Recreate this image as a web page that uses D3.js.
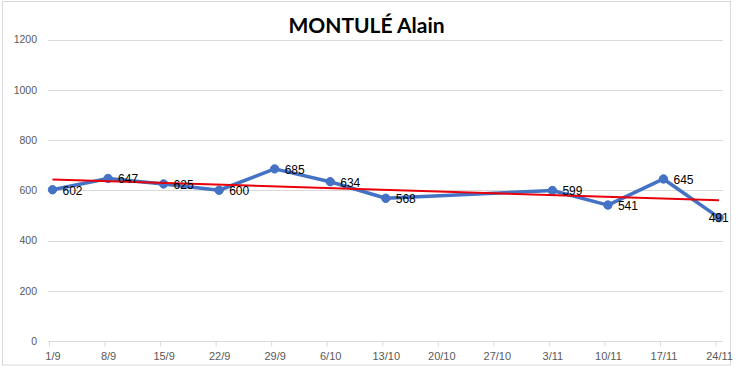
<!DOCTYPE html>
<html>
<head>
<meta charset="utf-8">
<script src="https://cdn.jsdelivr.net/npm/d3@7"></script>
<style>
  html, body { margin: 0; padding: 0; background: #fff; }
  svg { display: block; }
</style>
</head>
<body>
<svg id="chart" width="736" height="367"></svg>
<script>
const title = "MONTULÉ Alain";
const categories = ["1/9","8/9","15/9","22/9","29/9","6/10","13/10","20/10","27/10","3/11","10/11","17/11","24/11"];
const values = [602, 647, 625, 600, 685, 634, 568, null, null, 599, 541, 645, 491];
const yTicks = [0, 200, 400, 600, 800, 1000, 1200];

const W = 736, H = 367;
const svg = d3.select("#chart");
const borderRight = 730.5;

// chart border
svg.append("rect")
  .attr("x", 2.5).attr("y", 1.5).attr("width", borderRight - 2.5).attr("height", 363.5)
  .attr("fill", "#fff").attr("stroke", "#D9D9D9").attr("stroke-width", 1);

const plot = { left: 48, right: 723, top: 39.5, bottom: 341 };

const x = d3.scalePoint().domain(d3.range(categories.length)).range([52.5, 719]);
const y = d3.scaleLinear().domain([0, 1200]).range([plot.bottom, plot.top]);

// gridlines
svg.append("g").selectAll("line").data(yTicks.filter(d => d > 0)).join("line")
  .attr("x1", plot.left).attr("x2", plot.right)
  .attr("y1", d => Math.round(y(d)) + 0.5).attr("y2", d => Math.round(y(d)) + 0.5)
  .attr("stroke", "#D9D9D9").attr("stroke-width", 1);

// y axis labels
const yAxis = d3.axisLeft(y).tickValues(yTicks).tickFormat(d3.format("d")).tickSize(0).tickPadding(0);
const gy = svg.append("g").attr("transform", `translate(${plot.left - 11},0)`).call(yAxis);
gy.select(".domain").remove();
gy.selectAll("text").attr("fill", "#595959").style("font-family", "'Liberation Sans', Arial, sans-serif").style("font-size", "10.5px");

// x axis
const xAxis = d3.axisBottom(x).tickFormat(i => categories[i]).tickSize(0).tickPadding(11);
const gx = svg.append("g").attr("transform", `translate(0,${Math.round(y(0)) + 0.5})`).call(xAxis);
gx.select(".domain").remove();
gx.selectAll("text").attr("fill", "#595959").style("font-family", "'Liberation Sans', Arial, sans-serif").style("font-size", "11px");
gx.append("line").attr("x1", plot.left).attr("x2", plot.right).attr("y1", 0).attr("y2", 0)
  .attr("stroke", "#D9D9D9").attr("stroke-width", 1);
gx.selectAll(".tick").append("line").attr("x1", -3.5).attr("x2", -3.5).attr("y1", 0).attr("y2", 5)
  .attr("stroke", "#D9D9D9").attr("stroke-width", 1);

// data points
const pts = values.map((v, i) => ({ i, v })).filter(d => d.v !== null);

// series line (spans gaps)
const line = d3.line().x(d => x(d.i)).y(d => y(d.v));
svg.append("path").datum(pts).attr("d", line)
  .attr("fill", "none").attr("stroke", "#4472C4").attr("stroke-width", 3.5)
  .attr("stroke-linejoin", "round").attr("stroke-linecap", "round");

// markers
svg.append("g").selectAll("circle").data(pts).join("circle")
  .attr("cx", d => x(d.i)).attr("cy", d => y(d.v)).attr("r", 4.2)
  .attr("fill", "#4472C4").attr("stroke", "#4472C4").attr("stroke-width", 1);

// linear trend line (least squares over category index)
const mx = d3.mean(pts, d => d.i), my = d3.mean(pts, d => d.v);
const slope = d3.sum(pts, d => (d.i - mx) * (d.v - my)) / d3.sum(pts, d => (d.i - mx) ** 2);
const icpt = my - slope * mx;
const trend = [0, categories.length - 1].map(i => ({ i, v: icpt + slope * i }));
svg.append("path").datum(trend).attr("d", line)
  .attr("fill", "none").attr("stroke", "#E8000B").attr("stroke-width", 2);

// data labels (kept inside the chart border)
svg.append("g").selectAll("text").data(pts).join("text")
  .attr("x", d => x(d.i) + 10).attr("y", d => y(d.v)).attr("dy", "0.4em")
  .attr("fill", "#000").style("font-family", "'Liberation Sans', Arial, sans-serif").style("font-size", "12px")
  .text(d => d.v)
  .each(function () {
    const bb = this.getBBox();
    if (bb.x + bb.width > borderRight - 1) {
      d3.select(this).attr("x", borderRight - 1.5 - bb.width);
    }
  });

// title
svg.append("text").attr("x", 366.5).attr("y", 32.5).attr("text-anchor", "middle")
  .style("font-family", "Lato, 'Open Sans', sans-serif").style("font-weight", "bold").style("font-size", "21px")
  .attr("fill", "#000").text(title);
</script>
</body>
</html>
